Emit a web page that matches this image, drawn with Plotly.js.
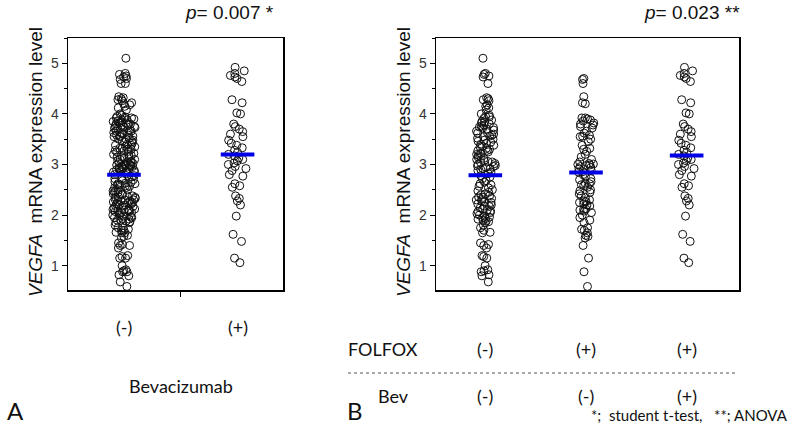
<!DOCTYPE html>
<html><head><meta charset="utf-8">
<script src="https://cdn.plot.ly/plotly-3.0.1.min.js"></script>
<style>html,body{margin:0;padding:0;background:#fff}#chart{width:792px;height:429px}</style>
</head><body><div id="chart"></div>
<script>
// ---- data ----
const groupsA = ['(-)', '(+)'];
const groupsB = ['FOLFOX(-) Bev(-)', 'FOLFOX(+) Bev(-)', 'FOLFOX(+) Bev(+)'];
const folfoxLabels = ['(-)', '(+)', '(+)'];
const bevLabels = ['(-)', '(-)', '(+)'];

const folfoxNegBevNeg = [
  5.10, 4.80, 4.78, 4.75, 4.73, 4.60,
  4.32, 4.30, 4.28, 4.26, 4.18, 4.15, 4.12, 4.08,
  4.00, 3.97, 3.95, 3.94, 3.91, 3.88, 3.85, 3.84, 3.82, 3.80, 3.78, 3.76, 3.74, 3.73, 3.72, 3.70, 3.68, 3.66, 3.63, 3.62, 3.60, 3.58, 3.56, 3.55, 3.52, 3.50, 3.48,
  3.46, 3.44, 3.42, 3.40, 3.38, 3.36, 3.35, 3.32, 3.30, 3.28, 3.27, 3.25, 3.22, 3.20, 3.18, 3.16, 3.15, 3.12, 3.10, 3.08, 3.06, 3.05, 3.04, 3.02, 3.00, 2.98,
  2.97, 2.96, 2.94, 2.92, 2.91, 2.90, 2.88, 2.85, 2.82, 2.78, 2.75, 2.72, 2.68, 2.65, 2.62, 2.60, 2.57, 2.54, 2.50,
  2.48, 2.45, 2.42, 2.40, 2.38, 2.36, 2.35, 2.33, 2.31, 2.30, 2.28, 2.26, 2.25, 2.22, 2.20, 2.18, 2.17, 2.14, 2.12, 2.10, 2.08, 2.07, 2.05, 2.03, 2.00,
  1.98, 1.96, 1.95, 1.93, 1.92, 1.90, 1.88, 1.87, 1.85, 1.80, 1.75, 1.70, 1.66, 1.65,
  1.45, 1.42, 1.40, 1.35, 1.20, 1.18, 1.15, 1.00, 0.92, 0.90, 0.88, 0.82, 0.80, 0.68
];
const folfoxPosBevNeg = [
  4.70, 4.68, 4.60, 4.34, 4.22, 4.20,
  3.92, 3.92, 3.90, 3.88, 3.86, 3.82, 3.80, 3.78, 3.75, 3.72, 3.66, 3.62, 3.58, 3.56, 3.55, 3.50,
  3.45, 3.38, 3.32, 3.30, 3.26, 3.20, 3.15, 3.10, 3.05, 3.02, 3.01, 3.00, 2.99, 2.98,
  2.96, 2.94, 2.92, 2.90, 2.88, 2.86, 2.85, 2.80, 2.76, 2.72, 2.70, 2.66, 2.63, 2.62, 2.60, 2.58, 2.55, 2.50, 2.48,
  2.45, 2.42, 2.38, 2.35, 2.30, 2.28, 2.27, 2.25, 2.22, 2.20, 2.18, 2.12, 2.11, 2.10, 2.08, 2.05, 2.00,
  1.95, 1.90, 1.85, 1.75, 1.72, 1.70, 1.65, 1.60, 1.58, 1.55,
  1.40, 1.15, 0.88, 0.59
];
const folfoxPosBevPos = [
  4.92, 4.85, 4.80, 4.76, 4.73, 4.70, 4.64, 4.28, 4.22, 4.02, 4.00,
  3.80, 3.75, 3.70, 3.65, 3.60, 3.55, 3.48, 3.42, 3.38, 3.33, 3.28, 3.24, 3.20, 3.17, 3.13, 3.10, 3.07, 3.03, 3.00,
  2.96, 2.92, 2.88, 2.80, 2.77, 2.62, 2.58, 2.55, 2.38, 2.33, 2.28, 2.20, 1.98, 1.62, 1.48, 1.15, 1.06
];
const meansA = [2.80, 3.20];
const meansB = [2.79, 2.84, 3.18];
const pTextA = '<i>p</i>= 0.007 *';
const pTextB = '<i>p</i>= 0.023 **';
const yTitle = '<i>VEGFA</i>  mRNA expression level';
const footnote = '*;  student t-test,   **; ANOVA';

// panel A groups are the Bev(-) and Bev(+) patients
const bevNeg = folfoxNegBevNeg.concat(folfoxPosBevNeg);
const bevPos = folfoxPosBevPos;
const valuesA = [bevNeg, bevPos];
const valuesB = [folfoxNegBevNeg, folfoxPosBevNeg, folfoxPosBevPos];

// ---- styles ----
const tickFont = {family: 'Liberation Sans, Arial, sans-serif', size: 14, color: '#333'};
const labelFont = {family: 'Lato, sans-serif', size: 18, color: '#111'};
const W = 792, H = 429;

function pointsTrace(vals, cat, xa, ya, w) {
  return {
    type: 'box', y: vals, x0: cat, xaxis: xa, yaxis: ya,
    boxpoints: 'all', jitter: 1, pointpos: 0, width: w,
    fillcolor: 'rgba(0,0,0,0)', line: {color: 'rgba(0,0,0,0)', width: 0},
    marker: {symbol: 'circle-open', size: 8, color: '#111', line: {width: 1, color: '#111'}},
    hoverinfo: 'skip', showlegend: false
  };
}
function meanTrace(cats, means, xa, ya) {
  return {
    type: 'scatter', mode: 'markers', x: cats, y: means, xaxis: xa, yaxis: ya,
    marker: {symbol: 'line-ew', size: 24, line: {width: 4, color: '#0000e6'}},
    hoverinfo: 'skip', showlegend: false
  };
}

const traces = [];
groupsA.forEach((g, i) => traces.push(pointsTrace(valuesA[i], g, 'x', 'y', 0.2)));
groupsB.forEach((g, i) => traces.push(pointsTrace(valuesB[i], g, 'x2', 'y2', 0.2)));
traces.push(meanTrace(groupsA, meansA, 'x', 'y'));
traces.push(meanTrace(groupsB, meansB, 'x2', 'y2'));

const yDomain = [1 - 290 / H, 1 - 38 / H];
function yAxis(anchor) {
  return {
    domain: yDomain, anchor: anchor, range: [0.52, 5.5], tick0: 0, dtick: 1,
    ticks: 'outside', ticklen: 5, tickwidth: 1, tickcolor: '#000',
    minor: {dtick: 0.5, tick0: 0, ticks: 'outside', ticklen: 3, tickcolor: '#000', tickwidth: 1},
    showline: true, mirror: true, linecolor: '#000', linewidth: 1.5,
    showgrid: false, zeroline: false, tickfont: tickFont, fixedrange: true
  };
}
function xAxis(domain, cats, range, anchor, ticks) {
  return {
    domain: domain, anchor: anchor, type: 'category', categoryorder: 'array', categoryarray: cats,
    range: range, ticks: ticks, tickson: 'boundaries', ticklen: 5, tickcolor: '#000', tickwidth: 1,
    showticklabels: false, showline: true, mirror: true, linecolor: '#000', linewidth: 1.5,
    showgrid: false, zeroline: false, fixedrange: true
  };
}

const annotations = [];
function ann(o) { annotations.push(Object.assign({showarrow: false, font: labelFont, xanchor: 'center', yanchor: 'middle'}, o)); }
const rowA = 1 - 327 / H, rowF = 1 - 349 / H, rowBev = 1 - 396 / H;
groupsA.forEach((g, i) => ann({xref: 'x', yref: 'paper', x: g, y: rowA, text: groupsA[i]}));
ann({xref: 'x', yref: 'paper', x: 0.5, y: 1 - 386 / H, text: 'Bevacizumab'});
groupsB.forEach((g, i) => {
  ann({xref: 'x2', yref: 'paper', x: g, y: rowF, text: folfoxLabels[i]});
  ann({xref: 'x2', yref: 'paper', x: g, y: rowBev, text: bevLabels[i]});
});
ann({xref: 'paper', yref: 'paper', x: 383 / W, y: rowF, text: 'FOLFOX'});
ann({xref: 'paper', yref: 'paper', x: 393 / W, y: rowBev, text: 'Bev'});
ann({xref: 'paper', yref: 'paper', x: 5 / W, xanchor: 'left', y: 1 - 410 / H, text: 'A', font: {family: 'Lato, sans-serif', size: 24, color: '#111'}});
ann({xref: 'paper', yref: 'paper', x: 345 / W, xanchor: 'left', y: 1 - 410 / H, text: 'B', font: {family: 'Lato, sans-serif', size: 24, color: '#111'}});
ann({xref: 'paper', yref: 'paper', x: 790 / W, xanchor: 'right', y: 1 - 415 / H, text: footnote, font: {family: 'Lato, sans-serif', size: 15, color: '#111'}});
ann({xref: 'paper', yref: 'paper', x: 229 / W, y: 1 - 12 / H, text: pTextA, font: {family: 'Liberation Sans, Arial, sans-serif', size: 19, color: '#111'}});
ann({xref: 'paper', yref: 'paper', x: 692 / W, y: 1 - 12 / H, text: pTextB, font: {family: 'Liberation Sans, Arial, sans-serif', size: 19, color: '#111'}});
ann({xref: 'paper', yref: 'paper', x: 35 / W, y: 1 - 162 / H, textangle: -90, text: yTitle, font: {family: 'Liberation Sans, Arial, sans-serif', size: 19, color: '#111'}});
ann({xref: 'paper', yref: 'paper', x: 403 / W, y: 1 - 162 / H, textangle: -90, text: yTitle, font: {family: 'Liberation Sans, Arial, sans-serif', size: 19, color: '#111'}});

const layout = {
  width: W, height: H, margin: {l: 0, r: 0, t: 0, b: 0},
  paper_bgcolor: '#fff', plot_bgcolor: '#fff', showlegend: false, boxmode: 'overlay',
  xaxis: xAxis([68 / W, 283 / W], groupsA, [-0.493, 1.40], 'y', 'outside'),
  yaxis: yAxis('x'),
  xaxis2: xAxis([436 / W, 739 / W], groupsB, [-0.49, 2.52], 'y2', ''),
  yaxis2: yAxis('x2'),
  annotations: annotations,
  shapes: [{type: 'line', xref: 'paper', yref: 'paper', x0: 348 / W, x1: 738 / W, y0: 1 - 373 / H, y1: 1 - 373 / H,
    line: {color: '#555', width: 1, dash: 'dot'}}]
};
Plotly.newPlot('chart', traces, layout, {displayModeBar: false, staticPlot: true});
</script></body></html>
